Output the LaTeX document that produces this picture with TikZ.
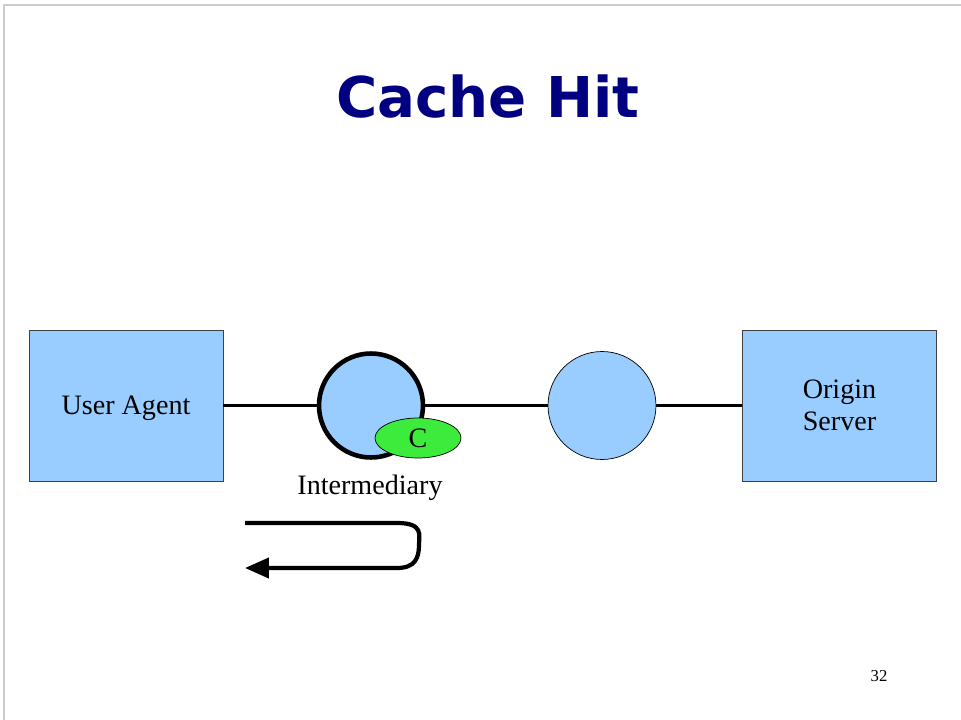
\documentclass[tikz,border=0pt]{standalone}
\usepackage{fontspec}
\setmainfont{Liberation Serif}
\newfontfamily\titlefont{DejaVu Sans}
\usetikzlibrary{arrows.meta, positioning, shapes.geometric}
\definecolor{boxblue}{RGB}{153,204,255}
\definecolor{cachegreen}{RGB}{60,235,60}
\definecolor{titlenavy}{RGB}{0,0,128}

\begin{document}
\begin{tikzpicture}[x=0.02cm, y=-0.02cm, >={Triangle[length=4.8mm, width=4mm]},
  hostbox/.style={draw=black!75, fill=boxblue, minimum width=3.88cm, minimum height=3.02cm, font=\fontsize{16}{18.5}\selectfont, align=center},
  proxy/.style={circle, draw, fill=boxblue, minimum size=2.16cm, inner sep=0pt},
  cachetag/.style={ellipse, draw, fill=cachegreen, minimum width=1.72cm, minimum height=0.8cm, inner sep=0pt, font=\fontsize{16}{18}\selectfont},
  link/.style={line width=1.8pt},
  hitpath/.style={line width=2.4pt}]
\useasboundingbox (0,0) rectangle (961,720);
% 页面边框
\draw[black!20, line width=0.6pt] (4,720) -- (4,5) -- (961,5);
% 标题
\node[font=\titlefont\bfseries\fontsize{32}{38}\selectfont, text=titlenavy] (title) at (488,97) {Cache Hit};
% 主机与中间节点
\node[hostbox, text depth=0pt] (ua) at (126,405.5) {User Agent};
\node[proxy, line width=2.6pt, minimum size=2.08cm] (inter) at (371,405.5) {};
\node[cachetag] (cache) at (418,438) {C};
\node[font=\fontsize{16}{18}\selectfont] (interlabel) at (370,488) {Intermediary};
\node[proxy] (gw) at (602,405.5) {};
\node[hostbox] (os) at (839.5,405.5) {Origin\\Server};
% 连线
\draw[link] (ua) -- (inter);
\draw[link] (inter) -- (gw);
\draw[link] (gw) -- (os);
% 命中返回路径
\coordinate (hitstart) at (245,523);
\coordinate (hitend) at (245,568);
\draw[hitpath, ->] (hitstart) -- (397,523) .. controls (424,523) and (419,535) .. (419,545)
  .. controls (419,558) and (415,568) .. (397,568) -- (hitend);
% 页码
\node[font=\fontsize{9.5}{11}\selectfont] (pagenum) at (879,676) {32};
\end{tikzpicture}
\end{document}
